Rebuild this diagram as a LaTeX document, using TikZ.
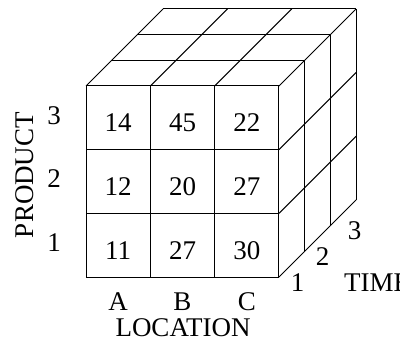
\documentclass[tikz,border=0pt]{standalone}
\usepackage{fontspec}
\setmainfont{Liberation Serif}
\begin{document}
\begin{tikzpicture}[x=1pt,y=-1pt,
  edge/.style={line width=1pt,line join=miter},
  lbl/.style={inner sep=0pt,font=\fontsize{27}{32}\selectfont}]
\useasboundingbox (0,0) rectangle (400,345);
\def\xa{86}\def\cw{64.33}\def\ya{86}\def\ch{63.67}\def\dd{25.7}
% front face grid
\foreach \i in {0,1,2,3}{
  \draw[edge] ({\xa+\i*\cw},\ya) -- ({\xa+\i*\cw},{\ya+3*\ch});
  \draw[edge] (\xa,{\ya+\i*\ch}) -- ({\xa+3*\cw},{\ya+\i*\ch});
}
% top face
\foreach \k in {1,2,3}{
  \draw[edge] ({\xa+\k*\dd},{\ya-\k*\dd}) -- ({\xa+3*\cw+\k*\dd},{\ya-\k*\dd});
}
\foreach \i in {0,1,2,3}{
  \draw[edge] ({\xa+\i*\cw},\ya) -- ({\xa+\i*\cw+3*\dd},{\ya-3*\dd});
}
% right face
\foreach \k in {1,2,3}{
  \draw[edge] ({\xa+3*\cw+\k*\dd},{\ya-\k*\dd}) -- ({\xa+3*\cw+\k*\dd},{\ya+3*\ch-\k*\dd});
}
\foreach \i in {1,2,3}{
  \draw[edge] ({\xa+3*\cw},{\ya+\i*\ch}) -- ({\xa+3*\cw+3*\dd},{\ya+\i*\ch-3*\dd});
}
% cell values
\node[lbl] (c13) at (118.2,123) {14};
\node[lbl] (c23) at (182.5,123) {45};
\node[lbl] (c33) at (246.8,123) {22};
\node[lbl] (c12) at (118.2,186.8) {12};
\node[lbl] (c22) at (182.5,186.8) {20};
\node[lbl] (c32) at (246.8,186.8) {27};
\node[lbl] (c11) at (118.2,250.4) {11};
\node[lbl] (c21) at (182.5,250.4) {27};
\node[lbl] (c31) at (246.8,250.4) {30};
% product axis
\node[lbl] (p3) at (54,115.3) {3};
\node[lbl] (p2) at (54,179) {2};
\node[lbl] (p1) at (54,243) {1};
\node[lbl,rotate=90] (prod) at (25,175) {PRODUCT};
% location axis
\node[lbl] (la) at (118.2,301.5) {A};
\node[lbl] (lb) at (182.5,301.5) {B};
\node[lbl] (lc) at (246.8,301.5) {C};
\node[lbl] (loc) at (183,328) {LOCATION};
% time axis
\node[lbl] (t1) at (297.5,282.5) {1};
\node[lbl] (t2) at (322.5,256.7) {2};
\node[lbl] (t3) at (354.5,230.7) {3};
\node[lbl,anchor=west] (time) at (344,282.5) {TIME};
\end{tikzpicture}
\end{document}
